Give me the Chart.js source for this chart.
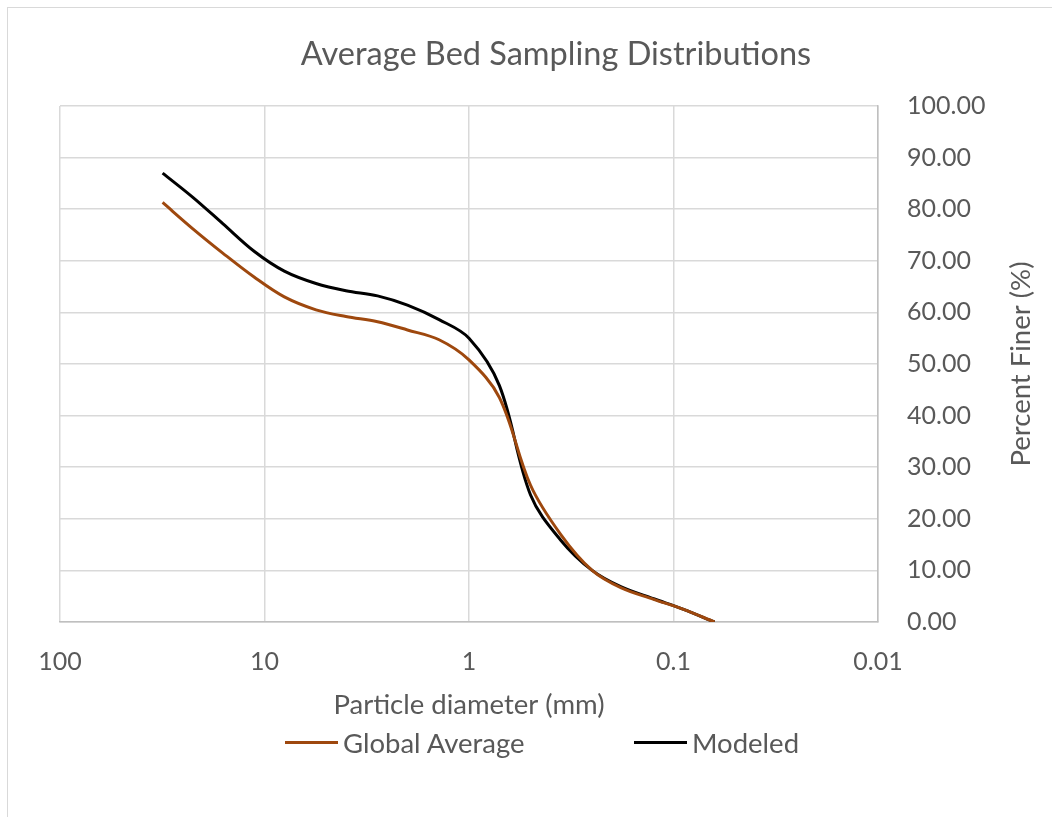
<!DOCTYPE html>
<html>
<head>
<meta charset="utf-8">
<title>Average Bed Sampling Distributions</title>
<script src="https://cdn.jsdelivr.net/npm/chart.js@4.4.1/dist/chart.umd.min.js"></script>
<style>
  html, body { margin: 0; padding: 0; background: #fff; overflow: hidden; }
  #wrap { position: relative; width: 1052px; height: 817px; }
  #frame { position: absolute; left: 7px; top: 7px; width: 1100px; height: 900px; border: 1px solid #d9d9d9; }
  #chart { position: absolute; left: 0; top: 0; }
  .legend-item { position: absolute; top: 726px; display: flex; align-items: center;
    font: 27.5px Lato, sans-serif; color: #595959; white-space: nowrap; }
  .legend-line { width: 53px; height: 3px; margin-right: 5px; }
</style>
</head>
<body>
<div id="wrap">
  <div id="frame"></div>
  <canvas id="chart" width="1052" height="817"></canvas>
  <div id="legend"></div>
</div>
<script>
// sieve sizes (mm) and percent finer
const diameters = [31.5, 22.4, 16, 11.2, 8, 5.6, 4, 2.8, 2, 1.4, 1, 0.71, 0.5, 0.355, 0.25, 0.18, 0.125, 0.09, 0.063]
const globalAverage = [81.3, 76.2, 71.5, 66.8, 63.0, 60.5, 59.2, 58.2, 56.6, 54.7, 50.8, 43.5, 26.5, 16.9, 10.0, 6.6, 4.4, 2.5, 0]
const modeled = [87.0, 82.3, 77.2, 71.8, 68.0, 65.6, 64.2, 63.2, 61.4, 58.6, 55.0, 45.8, 24.6, 15.8, 10.0, 6.8, 4.5, 2.5, 0]
const xTicks = [100, 10, 1, 0.1, 0.01]
const xTickLabels = ['100', '10', '1', '0.1', '0.01']

const TEXT = '#595959'
const FONT = 'Lato'

const toPoints = vals => diameters.map((d, i) => ({ x: d, y: vals[i] }))

// y title on the right, reading bottom to top
const yTitle = {
  id: 'yTitle',
  afterDraw(chart) {
    const { ctx, chartArea } = chart
    ctx.save()
    ctx.translate(1021, (chartArea.top + chartArea.bottom) / 2)
    ctx.rotate(-Math.PI / 2)
    ctx.fillStyle = TEXT
    ctx.font = `27.5px ${FONT}`
    ctx.textAlign = 'center'
    ctx.textBaseline = 'middle'
    ctx.fillText('Percent Finer (%)', 0, 0)
    ctx.restore()
  }
}

const chart = new Chart(document.getElementById('chart'), {
  type: 'scatter',
  data: {
    datasets: [
      {
        label: 'Global Average',
        data: toPoints(globalAverage),
        borderColor: '#9e480e',
        backgroundColor: '#9e480e',
        borderWidth: 3,
        showLine: true,
        pointRadius: 0,
        tension: 0.35,
      },
      {
        label: 'Modeled',
        data: toPoints(modeled),
        borderColor: '#000000',
        backgroundColor: '#000000',
        borderWidth: 3,
        showLine: true,
        pointRadius: 0,
        tension: 0.35,
      }
    ]
  },
  options: {
    responsive: false,
    animation: false,
    devicePixelRatio: 1,
    layout: { padding: { left: 60, right: 0, top: 0, bottom: 0 } },
    plugins: {
      legend: { display: false },
      tooltip: { enabled: false },
      title: {
        display: true,
        text: 'Average Bed Sampling Distributions',
        color: TEXT,
        font: { size: 32.5, family: FONT, weight: 'normal', lineHeight: 1.2 },
        padding: { top: 35.5, bottom: 31.5 }
      }
    },
    scales: {
      x: {
        type: 'logarithmic',
        reverse: true,
        min: 0.01,
        max: 100,
        afterBuildTicks: s => { s.ticks = xTicks.map(v => ({ value: v })) },
        afterFit: s => { s.height = 195 },
        ticks: {
          color: TEXT,
          font: { size: 25, family: FONT },
          padding: 25,
          maxRotation: 0,
          autoSkip: false,
          callback: (v) => xTickLabels[xTicks.indexOf(v)]
        },
        grid: { color: '#d9d9d9', lineWidth: 1.5, drawTicks: false },
        border: { color: '#bfbfbf', width: 1.5 },
        title: {
          display: true,
          text: 'Particle diameter (mm)',
          color: TEXT,
          font: { size: 27.5, family: FONT, lineHeight: 1.2 },
          padding: { top: 0, bottom: 95.5 }
        }
      },
      y: {
        position: 'right',
        min: 0,
        max: 100,
        afterFit: s => { s.width = 174 },
        ticks: {
          stepSize: 10,
          color: TEXT,
          font: { size: 25, family: FONT },
          padding: 29,
          callback: v => v.toFixed(2)
        },
        grid: { color: '#d9d9d9', lineWidth: 1.5, drawTicks: false },
        border: { color: '#bfbfbf', width: 1.5 }
      }
    }
  },
  plugins: [yTitle]
})

// legend built from the chart's datasets
const legendLefts = [285, 634]
const legend = document.getElementById('legend')
chart.data.datasets.forEach((ds, i) => {
  const item = document.createElement('div')
  item.className = 'legend-item'
  item.style.left = legendLefts[i] + 'px'
  item.innerHTML = `<span class="legend-line" style="background:${ds.borderColor}"></span><span>${ds.label}</span>`
  legend.appendChild(item)
})
</script>
</body>
</html>
